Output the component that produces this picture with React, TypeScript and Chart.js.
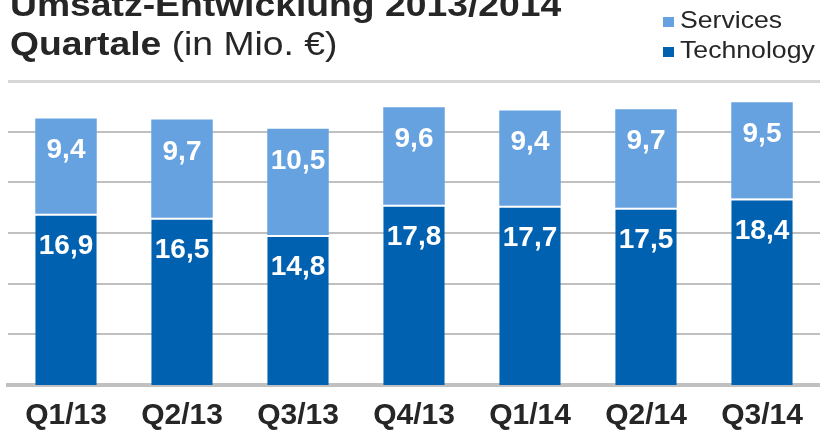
import React, { useEffect, useRef } from "react";
import { Chart, registerables } from "chart.js";

Chart.register(...registerables);

const categories = ["Q1/13", "Q2/13", "Q3/13", "Q4/13", "Q1/14", "Q2/14", "Q3/14"];
const technology = [16.9, 16.5, 14.8, 17.8, 17.7, 17.5, 18.4];
const services = [9.4, 9.7, 10.5, 9.6, 9.4, 9.7, 9.5];
const yTicks = [0, 5, 10, 15, 20, 25, 30];

const TECH_COLOR = "#0061B0";
const SERV_COLOR = "#66A2DF";
const TEXT_COLOR = "#262626";
const FONT = '"Liberation Sans", Arial, Helvetica, sans-serif';

const fmt = (v: number) => v.toFixed(1).replace(".", ",");

const labelPlugin = {
  id: "segLabels",
  afterDatasetsDraw(chart: any) {
    const ctx = chart.ctx;
    ctx.save();
    ctx.fillStyle = "#ffffff";
    ctx.font = `bold 28px ${FONT}`;
    ctx.textAlign = "center";
    ctx.textBaseline = "alphabetic";
    chart.data.datasets.forEach((ds: any, di: number) => {
      const meta = chart.getDatasetMeta(di);
      meta.data.forEach((bar: any, i: number) => {
        const v = ds.data[i];
        ctx.fillText(fmt(v), bar.x, bar.y + 40);
      });
    });
    ctx.restore();
  },
};

export default function App() {
  const ref = useRef<HTMLCanvasElement | null>(null);

  useEffect(() => {
    if (!ref.current) return;
    const chart = new Chart(ref.current, {
      type: "bar",
      data: {
        labels: categories,
        datasets: [
          {
            label: "Technology",
            data: technology,
            backgroundColor: TECH_COLOR,
            borderColor: "#ffffff",
            borderWidth: { top: 2, left: 0, right: 0, bottom: 0 },
            borderSkipped: false,
            barPercentage: 0.53,
            categoryPercentage: 1,
          },
          {
            label: "Services",
            data: services,
            backgroundColor: SERV_COLOR,
            borderWidth: 0,
            barPercentage: 0.53,
            categoryPercentage: 1,
          },
        ],
      },
      options: {
        responsive: false,
        animation: false,
        layout: { padding: { left: 8, right: 0, top: 81, bottom: 0 } },
        plugins: {
          legend: { display: false },
          title: { display: false },
          tooltip: { enabled: false },
        },
        scales: {
          x: {
            stacked: true,
            grid: { display: false, drawTicks: false },
            border: { display: true, color: "#c0c0c0", width: 4 },
            ticks: {
              color: TEXT_COLOR,
              font: { family: FONT, size: 30, weight: "bold" },
              padding: 13,
              maxRotation: 0,
              autoSkip: false,
            },
            afterFit: (scale: any) => {
              scale.height = 46;
            },
          },
          y: {
            stacked: true,
            min: 0,
            max: 30,
            afterBuildTicks: (scale: any) => {
              scale.ticks = yTicks.map((v) => ({ value: v }));
            },
            ticks: { display: false },
            border: { display: false },
            grid: {
              drawTicks: false,
              color: (c: any) => (c.tick && c.tick.value === 30 ? "#d6d6d6" : "#c0c0c0"),
              lineWidth: (c: any) =>
                c.tick && c.tick.value === 0 ? 0 : c.tick && c.tick.value === 30 ? 3 : 2,
            },
          },
        },
      },
      plugins: [labelPlugin],
    } as any);
    return () => chart.destroy();
  }, []);

  const titleBase: React.CSSProperties = {
    position: "absolute",
    left: 10,
    fontFamily: FONT,
    fontSize: 33,
    lineHeight: "33px",
    color: TEXT_COLOR,
    whiteSpace: "nowrap",
    transform: "scaleX(1.13)",
    transformOrigin: "left top",
  };
  const legText: React.CSSProperties = {
    position: "absolute",
    left: 680,
    fontFamily: FONT,
    fontSize: 24,
    lineHeight: "24px",
    color: TEXT_COLOR,
    whiteSpace: "nowrap",
    transform: "scaleX(1.11)",
    transformOrigin: "left top",
  };
  const sq: React.CSSProperties = { position: "absolute", left: 663, width: 11, height: 10 };

  return (
    <div
      style={{
        position: "absolute",
        left: 0,
        top: 0,
        width: 820,
        height: 431,
        overflow: "hidden",
        background: "#ffffff",
      }}
    >
      <canvas ref={ref} width={820} height={431} style={{ position: "absolute", left: 0, top: 0 }} />
      <div style={{ ...titleBase, top: -12, fontWeight: "bold" }}>Umsatz-Entwicklung 2013/2014</div>
      <div style={{ ...titleBase, top: 27 }}>
        <span style={{ fontWeight: "bold" }}>Quartale</span> (in Mio. €)
      </div>
      <div style={{ ...sq, top: 17, background: SERV_COLOR }} />
      <div style={{ ...legText, top: 8 }}>Services</div>
      <div style={{ ...sq, top: 47, background: TECH_COLOR }} />
      <div style={{ ...legText, top: 38 }}>Technology</div>
    </div>
  );
}
